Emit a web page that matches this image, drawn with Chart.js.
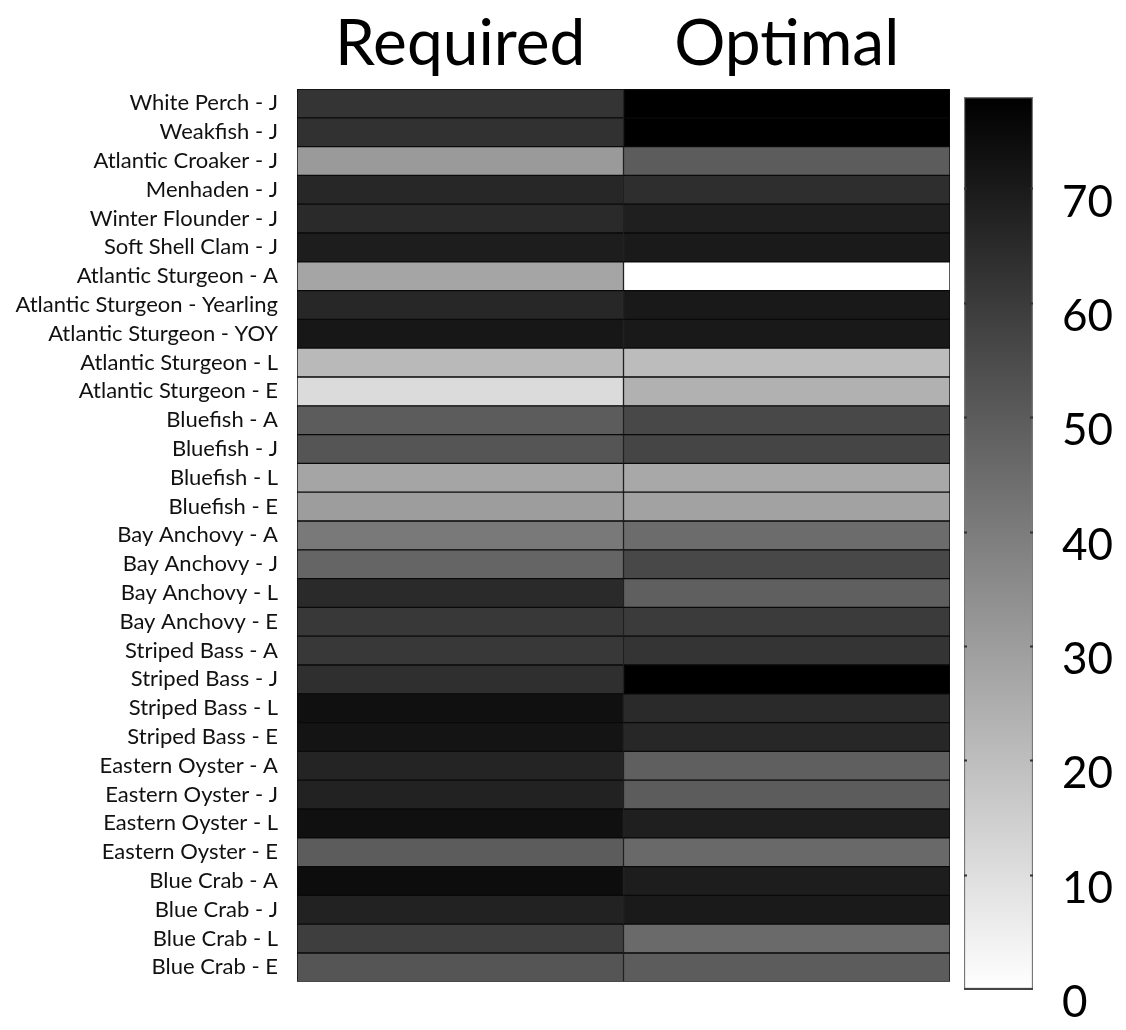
<!DOCTYPE html>
<html>
<head>
<meta charset="utf-8">
<script src="https://cdn.jsdelivr.net/npm/chart.js@4.4.1/dist/chart.umd.min.js"></script>
<style>
  body { margin: 0; background: #fff; }
  #heat { position: absolute; left: 0; top: 0; }
  #bar { position: absolute; left: 940px; top: 0; }
</style>
</head>
<body>
<canvas id="heat" width="960" height="1014"></canvas>
<canvas id="bar" width="186" height="1030"></canvas>
<script>
var rowLabels = [
  "White Perch - J", "Weakfish - J", "Atlantic Croaker - J", "Menhaden - J",
  "Winter Flounder - J", "Soft Shell Clam - J", "Atlantic Sturgeon - A",
  "Atlantic Sturgeon - Yearling", "Atlantic Sturgeon - YOY", "Atlantic Sturgeon - L",
  "Atlantic Sturgeon - E", "Bluefish - A", "Bluefish - J", "Bluefish - L", "Bluefish - E",
  "Bay Anchovy - A", "Bay Anchovy - J", "Bay Anchovy - L", "Bay Anchovy - E",
  "Striped Bass - A", "Striped Bass - J", "Striped Bass - L", "Striped Bass - E",
  "Eastern Oyster - A", "Eastern Oyster - J", "Eastern Oyster - L", "Eastern Oyster - E",
  "Blue Crab - A", "Blue Crab - J", "Blue Crab - L", "Blue Crab - E"
];
var colLabels = ["Required", "Optimal"];
var required = [62, 63, 31, 66, 65, 69, 27.5, 66, 71, 21.5, 11, 50, 52, 27.5, 30,
  41, 47, 65, 61, 61, 63.5, 73, 72, 67, 67.5, 73, 50, 74, 67.5, 59, 52];
var optimal = [78, 78, 50, 64, 68.5, 70, 0, 70.5, 70.5, 20.5, 24, 56, 57, 26.5, 28.5,
  45, 56, 49, 60, 62, 78, 65, 66, 49, 50, 68.5, 46, 69, 70, 45.5, 50];
var cbMin = 0;
var cbMax = 78;
var cbStep = 10;

function grey(v) {
  var g = Math.round(255 * (1 - (v - cbMin) / (cbMax - cbMin)));
  return "rgb(" + g + "," + g + "," + g + ")";
}

var font = "Lato, 'Open Sans', sans-serif";

var ctxH = document.getElementById("heat").getContext("2d");
var heat = new Chart(ctxH, {
  type: "bar",
  data: {
    labels: rowLabels,
    datasets: [required, optimal].map(function (vals, ci) {
      return {
        label: colLabels[ci],
        data: rowLabels.map(function () { return [ci, ci + 1]; }),
        backgroundColor: vals.map(grey),
        borderColor: "#0a0a0a",
        borderWidth: 1,
        borderSkipped: false,
        grouped: false,
        barPercentage: 1,
        categoryPercentage: 1
      };
    })
  },
  options: {
    indexAxis: "y",
    responsive: false,
    animation: false,
    layout: { padding: { top: 0, right: 10, bottom: 8, left: 0 } },
    plugins: { legend: { display: false }, tooltip: { enabled: false } },
    scales: {
      x: {
        type: "linear",
        position: "top",
        min: 0,
        max: 2,
        grid: { display: false, drawTicks: false },
        border: { display: false },
        afterBuildTicks: function (scale) {
          scale.ticks = colLabels.map(function (c, i) { return { value: i + 0.5 }; });
        },
        afterFit: function (scale) { scale.height = 89; },
        ticks: {
          autoSkip: false,
          maxRotation: 0,
          padding: 6,
          color: "#000",
          font: { family: font, size: 64 },
          callback: function (v, i) { return colLabels[i]; }
        }
      },
      y: {
        grid: { display: false, drawTicks: false },
        border: { display: false },
        afterFit: function (scale) { scale.width = 297; },
        ticks: {
          autoSkip: false,
          padding: 19,
          color: "#111",
          font: { family: font, size: 22 }
        }
      }
    }
  }
});

var cbMarks = {
  id: "cbMarks",
  afterDatasetsDraw: function (chart) {
    var c = chart.ctx, a = chart.chartArea, ys = chart.scales.y;
    c.save();
    c.strokeStyle = "#333";
    c.lineWidth = 2;
    ys.ticks.forEach(function (t) {
      if (t.value === cbMin) return;
      var y = Math.round(ys.getPixelForValue(t.value)) + 0.5;
      c.beginPath();
      c.moveTo(a.left, y); c.lineTo(a.left + 3, y);
      c.moveTo(a.right - 3, y); c.lineTo(a.right, y);
      c.stroke();
    });
    // darker bottom edge of the colour bar
    c.strokeStyle = "#444";
    c.beginPath();
    c.moveTo(a.left, a.bottom); c.lineTo(a.right, a.bottom);
    c.stroke();
    c.restore();
  }
};

var ctxB = document.getElementById("bar").getContext("2d");
var bar = new Chart(ctxB, {
  type: "bar",
  data: {
    labels: [""],
    datasets: [{
      data: [[cbMin, cbMax]],
      backgroundColor: function (c) {
        var ch = c.chart;
        if (!ch.chartArea) return null;
        var ys = ch.scales.y;
        var g = ch.ctx.createLinearGradient(0, ys.getPixelForValue(cbMin), 0, ys.getPixelForValue(cbMax));
        g.addColorStop(0, grey(cbMin));
        g.addColorStop(1, grey(cbMax));
        return g;
      },
      borderColor: "#777",
      borderWidth: 1.5,
      borderSkipped: false,
      barPercentage: 1,
      categoryPercentage: 1
    }]
  },
  options: {
    responsive: false,
    animation: false,
    layout: { padding: { top: 97, right: 0, bottom: 41, left: 24 } },
    plugins: { legend: { display: false }, tooltip: { enabled: false } },
    scales: {
      x: { display: false },
      y: {
        position: "right",
        min: cbMin,
        max: cbMax,
        grid: { display: false, drawTicks: false },
        border: { display: false },
        afterBuildTicks: function (scale) {
          scale.ticks = scale.ticks.filter(function (t) { return t.value % cbStep === 0; });
        },
        afterFit: function (scale) {
          scale.width = 93;
          scale.paddingTop = 0;
          scale.paddingBottom = 0;
        },
        ticks: {
          stepSize: cbStep,
          padding: 29,
          labelOffset: 14,
          color: "#000",
          font: { family: font, size: 44 }
        }
      }
    }
  },
  plugins: [cbMarks]
});
</script>
</body>
</html>
